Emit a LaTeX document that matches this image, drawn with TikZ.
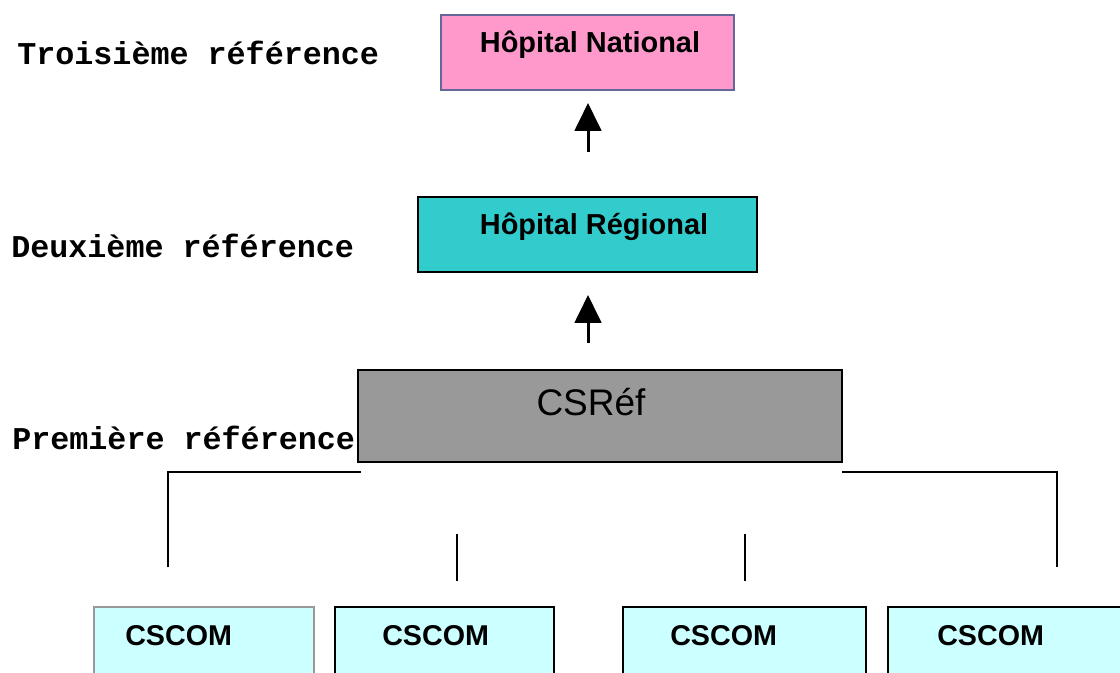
\documentclass[tikz,border=0pt]{standalone}
\usepackage{fontspec}
\setmainfont{Liberation Sans}
\setmonofont{Liberation Mono}
\usetikzlibrary{arrows.meta}

\definecolor{natpink}{HTML}{FF99CC}
\definecolor{natedge}{HTML}{666699}
\definecolor{regteal}{HTML}{33CCCC}
\definecolor{refgray}{HTML}{999999}
\definecolor{comcyan}{HTML}{CCFFFF}

\tikzset{
  box/.style={draw, rectangle, line width=1.5pt, inner sep=0pt},
  level/.style={anchor=base west, inner sep=0pt, font=\fontsize{23.8}{28}\selectfont\ttfamily\bfseries},
  boxtext/.style={anchor=base, inner sep=0pt, font=\fontsize{21.7}{26}\selectfont\bfseries},
  comtext/.style={anchor=base west, inner sep=0pt, font=\fontsize{21.5}{26}\selectfont\bfseries},
  uparrow/.style={line width=2.25pt, -{Triangle[length=21pt,width=20pt]}},
  link/.style={line width=1.1pt}
}

\begin{document}
\begin{tikzpicture}[x=0.75pt, y=-0.75pt]
		\clip (0,0) rectangle (1120,673);
		
		% Draw the levels
		\node[level] (lvl3) at (17,65) {Troisième référence};
		\node[level] (lvl2) at (11,258) {Deuxième référence};
		\node[level] (lvl1) at (12,449) {Première référence};
		
		% Draw the hospitals
		\node[box, draw=natedge, line width=1.1pt, fill=natpink, minimum width=219.75pt, minimum height=56.25pt] (natl) at (587.5,52.5) {};
		\node[boxtext] (natltxt) at (590,53) {Hôpital National};
		\node[box, fill=regteal, minimum width=254.25pt, minimum height=56.25pt] (reg) at (587.5,234.5) {};
		\node[boxtext] (regtxt) at (594,235) {Hôpital Régional};
		\node[box, fill=refgray, minimum width=363pt, minimum height=69pt] (csref) at (600,416) {};
		\node[anchor=base, inner sep=0pt, font=\fontsize{27.75}{32}\selectfont] (csreftxt) at (591,415) {CSRéf};
		
		% Draw the CSCOM boxes
		\node[box, draw=refgray, fill=comcyan, minimum width=165pt, minimum height=62.25pt] (com1) at (204,648.5) {};
		\node[box, fill=comcyan, minimum width=164.25pt, minimum height=62.25pt] (com2) at (444.5,648.5) {};
		\node[box, fill=comcyan, minimum width=182.25pt, minimum height=62.25pt] (com3) at (744.5,648.5) {};
		\node[box, fill=comcyan, minimum width=182.25pt, minimum height=62.25pt] (com4) at (1009.5,648.5) {};
		\node[comtext] (com1txt) at (125,645) {CSCOM};
		\node[comtext] (com2txt) at (382,645) {CSCOM};
		\node[comtext] (com3txt) at (670,645) {CSCOM};
		\node[comtext] (com4txt) at (937,645) {CSCOM};
		
		% Draw the arrows
		\coordinate (a1s) at (588,152);
		\coordinate (a1e) at (588,103);
		\coordinate (a2s) at (588,343);
		\coordinate (a2e) at (588,295);
		\draw[uparrow] (a1s) -- (a1e);
		\draw[uparrow] (a2s) -- (a2e);
		
		% Draw the links
		\coordinate (l1) at (168,567);
		\coordinate (l2) at (168,472);
		\coordinate (l3) at (361,472);
		\coordinate (r1) at (842,472);
		\coordinate (r2) at (1057,472);
		\coordinate (r3) at (1057,567);
		\draw[link] (l1) -- (l2) -- (l3);
		\draw[link] (r1) -- (r2) -- (r3);
		\coordinate (m1) at (457,534);
		\coordinate (m2) at (457,581);
		\coordinate (n1) at (745,534);
		\coordinate (n2) at (745,581);
		\draw[link] (m1) -- (m2);
		\draw[link] (n1) -- (n2);
	\end{tikzpicture}
\end{document}
